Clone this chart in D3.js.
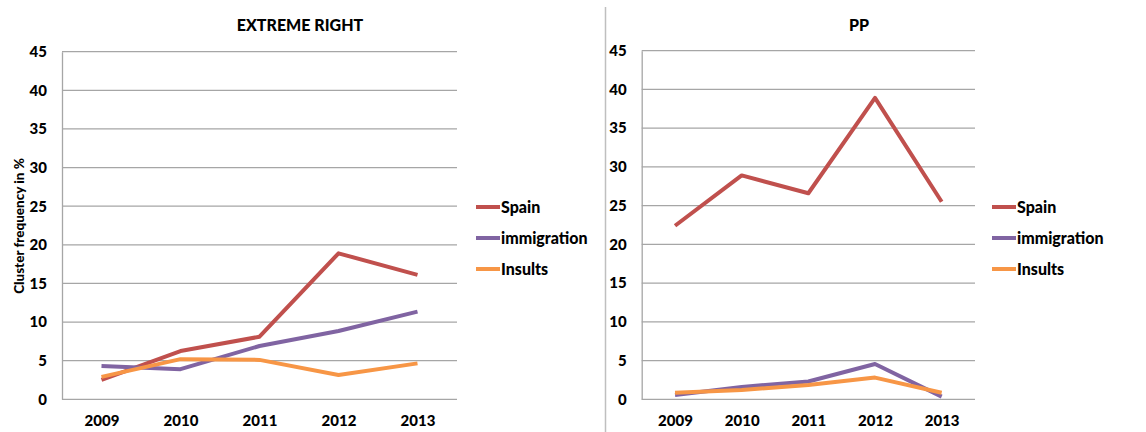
<!DOCTYPE html>
<html lang="en">
<head>
    <meta charset="UTF-8">
    <title>Cluster frequency</title>
    <script src="https://d3js.org/d3.v7.min.js"></script>
    <style>
        body { margin: 0; background: #fff; }
        svg { font-family: Lato, "Open Sans", sans-serif; font-weight: 900; }
        .grid line { stroke: #a6a6a6; stroke-width: 1.3px; }
    </style>
</head>
<body>
<svg width="1146" height="432"></svg>
<script>
    // data
    const years = ["2009", "2010", "2011", "2012", "2013"];
    const seriesNames = ["Spain", "immigration", "Insults"];
    const seriesColors = ["#c0504d", "#8064a2", "#f79646"];
    const yTicks = [0, 5, 10, 15, 20, 25, 30, 35, 40, 45];

    const extremeSpain = [2.5, 6.25, 8.1, 18.9, 16.1];
    const extremeImmigration = [4.3, 3.9, 6.9, 8.85, 11.35];
    const extremeInsults = [2.9, 5.2, 5.1, 3.15, 4.65];

    const ppSpain = [22.4, 28.9, 26.6, 38.9, 25.5];
    const ppImmigration = [0.55, 1.6, 2.3, 4.55, 0.35];
    const ppInsults = [0.85, 1.2, 1.85, 2.8, 0.85];

    const svg = d3.select("svg");

    // two panels
    const panels = [
        {title: "EXTREME RIGHT", titleX: 300, left: 62, right: 457, top: 51.7, bottom: 399.3,
         series: [extremeSpain, extremeImmigration, extremeInsults], legendX: 476, yLabel: true},
        {title: "PP", titleX: 859, left: 641.7, right: 975, top: 50.7, bottom: 399.3,
         series: [ppSpain, ppImmigration, ppInsults], legendX: 992, yLabel: false}
    ];

    // separator between the panels
    svg.append("line")
        .attr("x1", 605.5).attr("x2", 605.5)
        .attr("y1", 7).attr("y2", 432)
        .attr("stroke", "#bfbfbf").attr("stroke-width", 1.5);

    panels.forEach(function (p) {
        const x = d3.scalePoint().domain(years).range([p.left, p.right]).padding(0.5);
        const y = d3.scaleLinear().domain([0, 45]).range([p.bottom, p.top]);
        const g = svg.append("g");

        // gridlines
        g.append("g").attr("class", "grid")
            .selectAll("line").data(yTicks.slice(1)).join("line")
            .attr("x1", p.left).attr("x2", p.right)
            .attr("y1", d => y(d)).attr("y2", d => y(d));

        // y axis
        const yAxis = g.append("g")
            .attr("transform", `translate(${p.left},0)`)
            .call(d3.axisLeft(y).tickValues(yTicks).tickSize(0).tickPadding(15))
            .attr("font-family", null).attr("font-size", 15);
        yAxis.select(".domain").attr("stroke", "#a6a6a6").attr("stroke-width", 1.3);

        // x axis
        const xAxis = g.append("g")
            .attr("transform", `translate(0,${p.bottom})`)
            .call(d3.axisBottom(x).tickSize(0).tickPadding(16))
            .attr("font-family", null).attr("font-size", 15);
        xAxis.select(".domain").attr("stroke", "#a6a6a6").attr("stroke-width", 1.3)
            .attr("d", `M${p.left},0H${p.right}`);
        g.selectAll(".tick text").attr("fill", "#000");

        // lines
        const line = d3.line().x((d, i) => x(years[i])).y(d => y(d));
        p.series.forEach(function (vals, i) {
            g.append("path")
                .datum(vals)
                .attr("d", line)
                .attr("fill", "none")
                .attr("stroke", seriesColors[i])
                .attr("stroke-width", 4)
                .attr("stroke-linejoin", "round");
        });

        // title
        g.append("text")
            .attr("x", p.titleX).attr("y", 31)
            .attr("text-anchor", "middle")
            .style("font-size", "16px")
            .text(p.title);

        // legend
        const legend = g.append("g").attr("transform", `translate(${p.legendX},0)`);
        seriesNames.forEach(function (name, i) {
            const ly = 207 + i * 31;
            legend.append("line")
                .attr("x1", 0).attr("x2", 24)
                .attr("y1", ly).attr("y2", ly)
                .attr("stroke", seriesColors[i]).attr("stroke-width", 4);
            legend.append("text")
                .attr("x", 25).attr("y", ly + 6)
                .style("font-size", "16px")
                .text(name);
        });

        if (p.yLabel) {
            g.append("text")
                .attr("transform", "translate(24,226) rotate(-90)")
                .attr("text-anchor", "middle")
                .style("font-size", "13.5px")
                .text("Cluster frequency in %");
        }
    });
</script>
</body>
</html>
